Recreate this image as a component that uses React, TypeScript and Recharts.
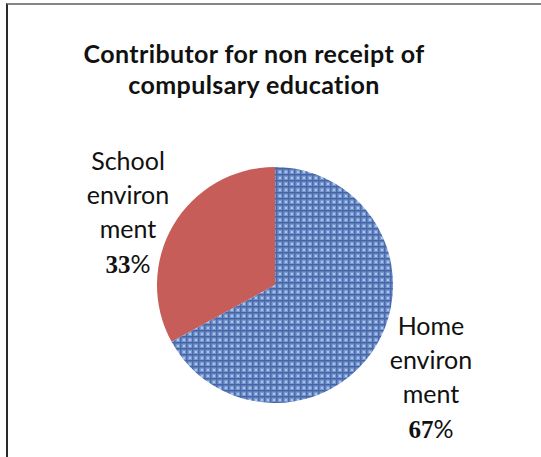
import { PieChart, Pie, Cell } from 'recharts';

const categories = ['School environment', 'Home environment'];
const labelLines = [
  ['School', 'environ', 'ment'],
  ['Home', 'environ', 'ment'],
];
const shares = [33, 67];
const colors = ['#c65d58', 'url(#weave)'];

const data = categories.map((name, i) => ({ name, value: shares[i] }));

// label block offsets from the pie centre (top baseline)
const labelOffset = [
  { dx: -147, dy: -115 },
  { dx: 156, dy: 50 },
];

const renderLabel = (props: any) => {
  const { cx, cy, index } = props;
  const o = labelOffset[index];
  const x = cx + o.dx;
  const y = cy + o.dy;
  const lines = labelLines[index];
  return (
    <text x={x} y={y} textAnchor="middle" fill="#111" style={{ fontFamily: 'Lato', fontSize: 25 }}>
      {lines.map((l, i) => (
        <tspan key={i} x={x} dy={i === 0 ? 0 : 34}>{l}</tspan>
      ))}
      <tspan x={x} dy={35} style={{ fontFamily: 'Liberation Serif', fontWeight: 700 }}>{shares[index]}</tspan>
      <tspan style={{ fontFamily: 'Lato', fontWeight: 400 }}>%</tspan>
    </text>
  );
};

const titleStyle = {
  position: 'absolute' as const, left: 0, width: 508, textAlign: 'center' as const,
  fontFamily: 'Lato', fontWeight: 700, fontSize: 25, lineHeight: '26px', letterSpacing: 0.4, color: '#111',
};

export default function App() {
  return (
    <div style={{ position: 'absolute', left: 0, top: 0, width: 541, height: 457, background: '#fff' }}>
      <div
        style={{
          position: 'absolute', left: 6, top: 3, width: 535, height: 454,
          borderTop: '2px solid #858585', borderLeft: '2px solid #2a2a2a', boxSizing: 'border-box',
        }}
      />
      <div style={{ ...titleStyle, top: 40 }}>Contributor for non receipt of</div>
      <div style={{ ...titleStyle, top: 71 }}>compulsary education</div>
      <PieChart width={541} height={457} margin={{ top: 0, right: 0, bottom: 0, left: 0 }}>
        <defs>
          <pattern id="weave" width="6" height="6" patternUnits="userSpaceOnUse">
            <rect width="6" height="6" fill="#7898d0" />
            <rect x="0" y="0" width="6" height="1.5" fill="#4263a6" />
            <rect x="0" y="0" width="1.5" height="6" fill="#4a6aac" />
            <rect x="3" y="3" width="2" height="2" fill="#adc3e8" />
          </pattern>
        </defs>
        <Pie
          data={data}
          dataKey="value"
          nameKey="name"
          cx={275}
          cy={285}
          outerRadius={118}
          startAngle={90}
          endAngle={450}
          stroke="none"
          label={renderLabel}
          labelLine={false}
          isAnimationActive={false}
        >
          {data.map((d, i) => (
            <Cell key={d.name} fill={colors[i]} />
          ))}
        </Pie>
      </PieChart>
    </div>
  );
}
